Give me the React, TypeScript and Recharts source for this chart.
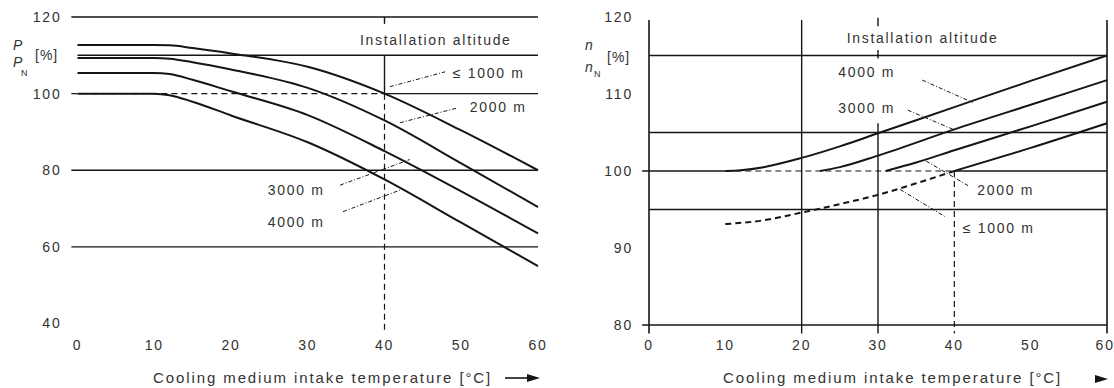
import React from "react";
import {
  Label,
  Line,
  LineChart,
  ReferenceDot,
  ReferenceLine,
  XAxis,
  YAxis,
} from "recharts";

const FONT = '"Liberation Sans", Arial, Helvetica, sans-serif';
const INK = "#151515";
const TEXT = "#333";

// left chart: permissible power P/PN over cooling medium temperature
const tempTicks = [0, 10, 20, 30, 40, 50, 60];
const powerTicks = [40, 60, 80, 100, 120];
const powerTemp = [0, 10, 12, 15, 20, 30, 40, 50, 60];
const power1000 = [112.7, 112.7, 112.6, 111.9, 110.5, 107.0, 100, 90.4, 80];
const power2000 = [109.3, 109.3, 109.1, 108.2, 106.3, 101.5, 93.0, 81.8, 70.4];
const power3000 = [105.4, 105.4, 105.1, 103.6, 100.6, 94.4, 85.0, 74.5, 63.5];
const power4000 = [100, 100, 99.6, 97.9, 94.3, 87.3, 77.6, 66.3, 55];

// right chart: speed n/nN over cooling medium temperature
const speedTicks = [80, 90, 100, 110, 120];
const speed4000Temp = [10, 12, 15, 20, 25, 30, 40, 50, 60];
const speed4000 = [100, 100.1, 100.5, 101.7, 103.2, 104.9, 108.3, 111.7, 115];
const speed3000Temp = [22.4, 25, 30, 40, 50, 60];
const speed3000 = [100, 100.5, 102, 105.4, 108.6, 111.8];
const speed2000Temp = [31, 35, 40, 50, 60];
const speed2000 = [100, 101.1, 102.7, 105.8, 109];
const speed1000LowTemp = [10, 15, 20, 25, 30, 35, 40];
const speed1000Low = [93.1, 93.6, 94.6, 95.7, 96.9, 98.4, 100];
const speed1000Temp = [40, 50, 60];
const speed1000 = [100, 103, 106.2];

const zip = (t: number[], v: number[]) => t.map((x, i) => ({ t: x, v: v[i] }));

const seg = (
  key: string,
  x1: number,
  y1: number,
  x2: number,
  y2: number,
  dash?: string,
  w = 1.4
) => (
  <ReferenceLine
    key={key}
    segment={[
      { x: x1, y: y1 },
      { x: x2, y: y2 },
    ]}
    stroke={INK}
    strokeWidth={w}
    strokeDasharray={dash}
    ifOverflow="visible"
  />
);

const LEADER = "4 2 1 2";

const note = (key: string, x: number, y: number, text: string) => (
  <ReferenceDot
    key={key}
    x={x}
    y={y}
    r={0}
    ifOverflow="visible"
    shape={(p: any) => (
      <text
        x={p.cx}
        y={p.cy}
        dy="0.35em"
        fontSize={14}
        fontFamily={FONT}
        fill={TEXT}
        letterSpacing={1.7}
      >
        {text}
      </text>
    )}
  />
);

const tickStyle = { fontSize: 14, fill: TEXT, fontFamily: FONT, letterSpacing: 1.8 };

const curve = (key: string, data: { t: number; v: number }[], dash?: string) => (
  <Line
    key={key}
    data={data}
    dataKey="v"
    type="monotone"
    stroke={INK}
    strokeWidth={2}
    strokeDasharray={dash}
    dot={false}
    activeDot={false}
    isAnimationActive={false}
  />
);

function PowerChart() {
  return (
    <LineChart
      width={560}
      height={388}
      margin={{ top: 17, right: 22, bottom: 34.5, left: 17.5 }}
    >
      <XAxis
        type="number"
        dataKey="t"
        domain={[0, 60]}
        ticks={tempTicks}
        axisLine={false}
        tickLine={false}
        tickSize={0}
        tickMargin={16.5}
        tick={tickStyle}
        height={30}
      >
        <Label
          content={() => (
            <g>
              <text x={153} y={378} dy="0.35em" fontSize={15} fontFamily={FONT} fill={TEXT} letterSpacing={1.9}>
                Cooling medium intake temperature [°C]
              </text>
              <line x1={505} y1={378} x2={530} y2={378} stroke={INK} strokeWidth={1.6} />
              <polygon points="540,378 527,374 527,382" fill={INK} />
            </g>
          )}
        />
      </XAxis>
      <YAxis
        type="number"
        domain={[40, 120]}
        ticks={powerTicks}
        axisLine={false}
        tickLine={false}
        tickSize={0}
        tickMargin={16}
        tick={tickStyle}
        width={60}
      >
        <Label
          content={() => (
            <g fontFamily={FONT} fill={TEXT}>
              <text x={13} y={50} fontSize={14} fontStyle="italic">P</text>
              <text x={35} y={60} fontSize={14} letterSpacing={1}>[%]</text>
              <text x={13} y={67} fontSize={14} fontStyle="italic">P</text>
              <text x={21} y={76} fontSize={9}>N</text>
            </g>
          )}
        />
      </YAxis>

      {seg("g120", -0.8, 120, 60, 120)}
      {seg("g110", 0, 110, 60, 110)}
      {seg("g100a", -0.8, 100, 40, 100, "6 4", 1.2)}
      {seg("g100b", 40, 100, 60, 100)}
      {seg("g80", -0.8, 80, 60, 80)}
      {seg("g60", -0.8, 60, 60, 60)}
      {seg("v40a", 40, 120, 40, 118.2)}
      {seg("v40b", 40, 110, 40, 100)}
      {seg("v40c", 40, 100, 40, 38.3, "6 4", 1.2)}

      {curve("p1000", zip(powerTemp, power1000))}
      {curve("p2000", zip(powerTemp, power2000))}
      {curve("p3000", zip(powerTemp, power3000))}
      {curve("p4000", zip(powerTemp, power4000))}

      {seg("l1000", 40.7, 101.8, 47.9, 105.7, LEADER, 1)}
      {seg("l2000", 42.0, 92.4, 49.4, 96.2, LEADER, 1)}
      {seg("l3000", 34.2, 76.1, 43.3, 82.8, LEADER, 1)}
      {seg("l4000", 34.6, 69.2, 42.0, 74.8, LEADER, 1)}

      {note("nAlt", 36.8, 114.0, "Installation altitude")}
      {note("n1000", 48.9, 105.4, "≤ 1000 m")}
      {note("n2000", 51.1, 96.5, "2000 m")}
      {note("n3000", 24.8, 74.8, "3000 m")}
      {note("n4000", 24.8, 66.5, "4000 m")}
    </LineChart>
  );
}

function SpeedChart() {
  return (
    <LineChart
      width={554}
      height={388}
      margin={{ top: 17, right: 7, bottom: 33, left: 29 }}
    >
      <XAxis
        type="number"
        dataKey="t"
        domain={[0, 60]}
        ticks={tempTicks}
        axisLine={false}
        tickLine={false}
        tickSize={0}
        tickMargin={15}
        tick={tickStyle}
        height={30}
      >
        <Label
          content={() => (
            <g>
              <text x={163} y={378} dy="0.35em" fontSize={15} fontFamily={FONT} fill={TEXT} letterSpacing={1.9}>
                Cooling medium intake temperature [°C]
              </text>
              <polygon points="548,379 535,375 535,383" fill={INK} />
            </g>
          )}
        />
      </XAxis>
      <YAxis
        type="number"
        domain={[80, 120]}
        ticks={speedTicks}
        axisLine={false}
        tickLine={false}
        tickSize={0}
        tickMargin={16}
        tick={tickStyle}
        width={60}
      >
        <Label
          content={() => (
            <g fontFamily={FONT} fill={TEXT}>
              <text x={25} y={50} fontSize={14} fontStyle="italic">n</text>
              <text x={47} y={62} fontSize={14} letterSpacing={1}>[%]</text>
              <text x={25} y={72} fontSize={14} fontStyle="italic">n</text>
              <text x={34} y={77} fontSize={9}>N</text>
            </g>
          )}
        />
      </YAxis>

      {seg("g115", 0, 115, 60, 115)}
      {seg("g105", 0, 105, 60, 105)}
      {seg("g100a", -0.9, 100, 10, 100)}
      {seg("g100b", 10, 100, 40, 100, "6 4", 1.2)}
      {seg("g100c", 40, 100, 60, 100)}
      {seg("g95", 0, 95, 60, 95)}
      {seg("g80", -0.9, 80, 60, 80, undefined, 1.6)}
      {seg("v0", 0, 78.9, 0, 119.6, undefined, 1.6)}
      {seg("v20", 20, 78.9, 20, 119.6)}
      {seg("v30a", 30, 78.9, 30, 106.2)}
      {seg("v30b", 30, 115.7, 30, 114.6)}
      {seg("v30c", 30, 119.9, 30, 118.8)}
      {seg("v40", 40, 100, 40, 78.9, "6 4", 1.2)}
      {seg("v60", 60, 78.9, 60, 119.6, undefined, 1.6)}

      {curve("n4000", zip(speed4000Temp, speed4000))}
      {curve("n3000", zip(speed3000Temp, speed3000))}
      {curve("n2000", zip(speed2000Temp, speed2000))}
      {curve("n1000low", zip(speed1000LowTemp, speed1000Low), "6 4")}
      {curve("n1000", zip(speed1000Temp, speed1000))}

      {seg("l4000", 35.8, 111.8, 42.4, 108.9, LEADER, 1)}
      {seg("l3000", 33.9, 107.9, 40.1, 105.3, LEADER, 1)}
      {seg("l2000", 36.3, 101.3, 41.8, 98.1, LEADER, 1)}
      {seg("l1000", 32.9, 97.6, 38.9, 94.0, LEADER, 1)}

      {note("nAlt", 25.9, 117.3, "Installation altitude")}
      {note("n4000", 24.8, 112.9, "4000 m")}
      {note("n3000", 24.8, 108.2, "3000 m")}
      {note("n2000", 43.0, 97.5, "2000 m")}
      {note("n1000", 41.1, 92.6, "≤ 1000 m")}
    </LineChart>
  );
}

export default function App() {
  return (
    <div style={{ position: "absolute", left: 0, top: 0, width: 1114, height: 388, background: "#fff" }}>
      <div style={{ position: "absolute", left: 0, top: 0 }}>
        <PowerChart />
      </div>
      <div style={{ position: "absolute", left: 560, top: 0 }}>
        <SpeedChart />
      </div>
    </div>
  );
}
